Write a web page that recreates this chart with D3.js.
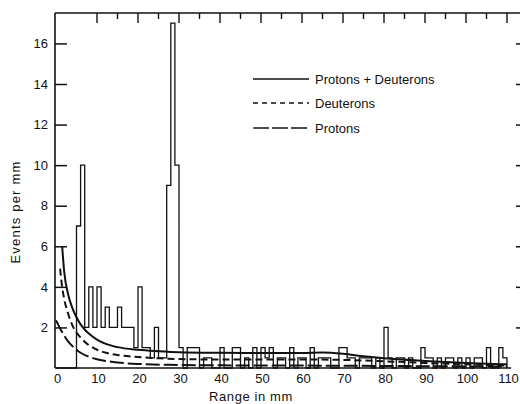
<!DOCTYPE html>
<html>
<head>
<meta charset="utf-8">
<script src="https://cdn.jsdelivr.net/npm/d3@7"></script>
<style>
  body { margin: 0; background: #fff; }
  text { font-family: "Liberation Sans", Arial, sans-serif; fill: #111; }
</style>
</head>
<body>
<div id="chart"></div>
<script>
// events per mm, one bin per mm starting at 0
var counts = [
  0, 0, 0, 0, 0, 7, 10, 2, 4, 2,
  4, 2, 3, 2, 2, 3, 2, 2, 2, 1,
  4, 1, 1, 0.5, 2, 0.5, 0.5, 9, 17, 10,
  1, 0, 1, 1, 1, 0, 0.5, 0.5, 0, 0,
  1, 0, 0, 1, 1, 0, 0.5, 0, 1, 0,
  1, 0.5, 1, 0, 0.5, 0.5, 0, 1, 0, 0.5,
  0.5, 0, 1, 0, 0.5, 0.5, 0.5, 0, 0, 1,
  1, 0.5, 0.5, 0, 0.5, 0.5, 0.5, 0, 0.5, 0,
  2, 0.5, 0, 0.5, 0.5, 0, 0.5, 0, 0, 1,
  0.5, 0.5, 0, 0.5, 0, 0.5, 0.5, 0, 0.5, 0,
  0.5, 0, 0.5, 0.5, 0, 1, 0, 0, 1, 0.5
];

// fitted curves
var sumRange = [1.5, 2, 3, 4, 5, 6, 7, 8, 10, 12, 15, 20, 25, 30, 40, 50, 60, 65, 70, 75, 80, 90, 100, 110];
var sumValue = [6.0, 4.75, 3.6, 2.95, 2.5, 2.15, 1.9, 1.7, 1.4, 1.2, 1.03, 0.9, 0.83, 0.78, 0.75, 0.74, 0.74, 0.76, 0.7, 0.58, 0.48, 0.35, 0.25, 0.18];

var deutRange = [1, 1.5, 2, 3, 4, 5, 6, 8, 10, 12, 15, 20, 25, 30, 40, 50, 60, 70, 80, 90, 100, 110];
var deutValue = [4.9, 4.0, 3.4, 2.65, 2.1, 1.75, 1.5, 1.13, 0.9, 0.76, 0.64, 0.54, 0.48, 0.44, 0.42, 0.42, 0.42, 0.4, 0.33, 0.25, 0.18, 0.12];

var protRange = [0, 1, 2, 3, 4, 5, 6, 8, 10, 12, 15, 20, 30, 40, 60, 80, 100, 110];
var protValue = [2.35, 1.95, 1.6, 1.3, 1.08, 0.9, 0.75, 0.56, 0.43, 0.35, 0.27, 0.2, 0.15, 0.13, 0.12, 0.1, 0.08, 0.07];

var xTicks = [0, 10, 20, 30, 40, 50, 60, 70, 80, 90, 100, 110];
var xTickLabels = ["0", "10", "20", "30", "40", "50", "60", "70", "80", "90", "100", "110"];
var yTicks = [2, 4, 6, 8, 10, 12, 14, 16];
var legendLabels = ["Protons  + Deuterons", "Deuterons", "Protons"];

var svgWidth = 520;
var svgHeight = 404;

var svg = d3.select("#chart")
  .append("svg")
  .attr("width", svgWidth)
  .attr("height", svgHeight);

var x = d3.scaleLinear().domain([0, 110]).range([56, 507]);
var y = d3.scaleLinear().domain([0, 17.5]).range([368, 13]);

var ink = "#111";

// frame
svg.append("line").attr("x1", x(-0.25)).attr("x2", x(-0.25)).attr("y1", y(17.5)).attr("y2", y(0))
  .attr("stroke", ink).attr("stroke-width", 1.6);
svg.append("line").attr("x1", x(-0.25)).attr("x2", 520).attr("y1", y(17.5)).attr("y2", y(17.5))
  .attr("stroke", ink).attr("stroke-width", 1.4);
svg.append("line").attr("x1", x(-0.25)).attr("x2", x(111)).attr("y1", y(0)).attr("y2", y(0))
  .attr("stroke", ink).attr("stroke-width", 1.6);

// left ticks + labels
var leftAxis = d3.axisRight(y).tickValues(yTicks).tickSize(12).tickFormat("");
var gl = svg.append("g").attr("transform", `translate(${x(-0.25)},0)`).call(leftAxis);
gl.select(".domain").remove();
gl.selectAll("line").attr("stroke", ink).attr("stroke-width", 1.5);

svg.selectAll(".ylab")
  .data(yTicks)
  .enter()
  .append("text")
  .attr("class", "ylab")
  .attr("x", 48)
  .attr("y", d => y(d))
  .attr("dy", "0.36em")
  .attr("text-anchor", "end")
  .attr("font-size", "13px")
  .text(d => d);

// right ticks
var rightAxis = d3.axisLeft(y).tickValues(yTicks).tickSize(4).tickFormat("");
var gr = svg.append("g").attr("transform", "translate(520,0)").call(rightAxis);
gr.select(".domain").remove();
gr.selectAll("line").attr("stroke", ink).attr("stroke-width", 1.5);

// top ticks every 5 mm
var topTicks = d3.range(10, 111, 5);
svg.selectAll(".ttick")
  .data(topTicks)
  .enter()
  .append("line")
  .attr("x1", d => x(d))
  .attr("x2", d => x(d))
  .attr("y1", y(17.5))
  .attr("y2", d => y(17.5) + (d % 10 === 0 ? 10 : 6))
  .attr("stroke", ink)
  .attr("stroke-width", 1.4);

// x labels
svg.selectAll(".xlab")
  .data(xTicks)
  .enter()
  .append("text")
  .attr("x", d => x(d) + 1.5)
  .attr("y", 383)
  .attr("text-anchor", "middle")
  .attr("font-size", "13px")
  .text((d, i) => xTickLabels[i]);

// axis titles
svg.append("text")
  .attr("x", 251)
  .attr("y", 401)
  .attr("text-anchor", "middle")
  .attr("font-size", "13px")
  .attr("letter-spacing", "0.6px")
  .text("Range in mm");

svg.append("text")
  .attr("transform", "translate(20, 212) rotate(-90)")
  .attr("text-anchor", "middle")
  .attr("font-size", "13px")
  .attr("letter-spacing", "1.2px")
  .text("Events per mm");

// histogram outline
var steps = counts.map((c, i) => ({ mm: i, v: c }));
steps.push({ mm: counts.length, v: 0 });

var stepLine = d3.line()
  .x(d => x(d.mm))
  .y(d => y(d.v))
  .curve(d3.curveStepAfter);

svg.append("path")
  .datum(steps)
  .attr("d", stepLine)
  .attr("fill", "none")
  .attr("stroke", ink)
  .attr("stroke-width", 1.3);

// curves
var curveLine = d3.line()
  .x(d => x(d[0]))
  .y(d => y(d[1]))
  .curve(d3.curveMonotoneX);

var curves = [
  { r: sumRange, v: sumValue, dash: null },
  { r: deutRange, v: deutValue, dash: "7,4" },
  { r: protRange, v: protValue, dash: "14,4" }
];

curves.forEach(function(c) {
  svg.append("path")
    .datum(c.r.map((m, i) => [m, c.v[i]]))
    .attr("d", curveLine)
    .attr("fill", "none")
    .attr("stroke", ink)
    .attr("stroke-width", 2)
    .attr("stroke-dasharray", c.dash);
});

// legend
var legendY = [79, 103, 128];
var legendDash = [null, "5,4", "16,3"];

legendLabels.forEach(function(label, i) {
  svg.append("line")
    .attr("x1", 253).attr("x2", 309)
    .attr("y1", legendY[i]).attr("y2", legendY[i])
    .attr("stroke", ink)
    .attr("stroke-width", 1.3)
    .attr("stroke-dasharray", legendDash[i]);
  svg.append("text")
    .attr("x", 315)
    .attr("y", legendY[i])
    .attr("dy", "0.36em")
    .attr("font-size", "13px")
    .text(label);
});
</script>
</body>
</html>
